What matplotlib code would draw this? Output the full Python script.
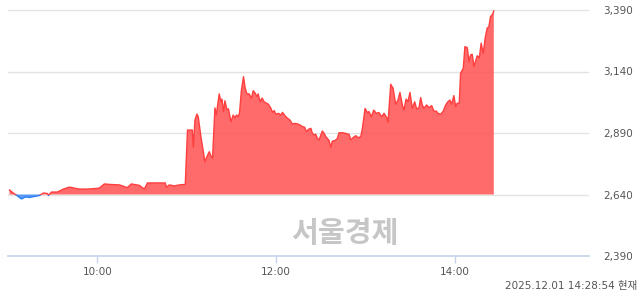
import matplotlib
matplotlib.use("Agg")
import matplotlib.pyplot as plt
from matplotlib.patches import Rectangle
import numpy as np

plt.rcParams['font.family'] = ['DejaVu Sans', 'Noto Sans CJK KR']

# minutes since 09:00 and price
minutes = [1.0, 4.4, 6.4, 9.1, 11.7, 14.4, 17.8, 21.1, 23.8, 26.5, 27.2, 29.2, 33.2, 37.2, 41.2,
           44.6, 47.9, 53.3, 58.0, 61.3, 64.7, 68.0, 74.8, 80.1, 82.8, 88.2, 91.5, 93.6, 101.7,
           105.6, 106.3, 108.3, 111.6, 115.0, 119.0, 120.5, 123.7, 124.4, 125.5, 126.8, 127.7,
           129.5, 132.2, 133.1, 135.1, 136.2, 137.3, 138.9, 139.8, 141.8, 142.9, 143.6, 144.7,
           145.6, 147.0, 148.0, 149.6, 151.2, 152.3, 153.4, 154.5, 155.4, 156.7, 158.1, 159.2,
           160.4, 161.9, 163.4, 164.6, 165.7, 167.1, 167.9, 169.3, 170.6, 172.0, 173.5, 174.8,
           176.5, 177.5, 178.7, 179.8, 181.5, 183.2, 184.2, 186.0, 187.6, 189.2, 190.9, 192.8,
           194.3, 195.9, 197.6, 199.2, 200.3, 201.7, 203.3, 204.3, 205.5, 206.6, 207.7, 208.8,
           210.0, 211.0, 212.2, 213.3, 214.4, 215.5, 216.7, 217.7, 219.5, 221.1, 222.2, 224.4,
           226.3, 227.8, 228.9, 230.1, 231.6, 233.4, 235.0, 236.8, 237.9, 239.7, 241.2, 242.3,
           243.9, 245.5, 247.2, 249.0, 250.9, 252.4, 254.2, 255.1, 256.9, 258.5, 260.2, 261.8,
           263.1, 264.7, 265.8, 267.2, 268.5, 269.8, 271.4, 273.0, 274.3, 275.9, 277.0, 278.1,
           279.2, 281.0, 282.6, 284.4, 285.9, 287.5, 288.6, 290.4, 292.2, 293.8, 295.3, 296.6,
           297.8, 299.3, 300.5, 301.5, 302.9, 303.8, 305.6, 306.7, 308.3, 309.4, 310.5, 311.6,
           312.8, 314.1, 315.0, 316.4, 317.6, 319.0, 320.3, 321.6, 322.8, 323.9, 325.3, 326.1]
prices = [2658, 2642, 2634, 2622, 2630, 2628, 2632, 2636, 2646, 2644, 2636, 2650, 2650, 2662, 2670,
          2666, 2662, 2662, 2664, 2666, 2683, 2681, 2679, 2668, 2683, 2677, 2662, 2687, 2687,
          2687, 2670, 2679, 2675, 2679, 2681, 2902, 2902, 2833, 2943, 2967, 2956,
          2875, 2773, 2788, 2814, 2797, 2788, 2992, 2963, 3049, 3017, 3028, 2977,
          3021, 2984, 2988, 2936, 2963, 2951, 2963, 2956, 2971, 3065, 3119, 3073,
          3049, 3049, 3031, 3062, 3054, 3038, 3049, 3017, 3032, 3016, 3011, 3007,
          2990, 2974, 2981, 2966, 2970, 2963, 2974, 2960, 2950, 2943, 2927, 2929,
          2927, 2923, 2916, 2913, 2895, 2905, 2909, 2889, 2882, 2885, 2868, 2862,
          2882, 2898, 2889, 2875, 2868, 2859, 2832, 2857, 2859, 2868, 2891, 2891,
          2889, 2886, 2885, 2862, 2871, 2879, 2871, 2875, 2909, 2990, 2973, 2977,
          2956, 2983, 2970, 2973, 2956, 2970, 2953, 2933, 3088, 3072, 3007, 3024,
          3055, 3004, 2983, 3028, 3017, 3055, 2990, 3017, 2988, 2993, 3034, 3004,
          2990, 3004, 2993, 3001, 2979, 2979, 2970, 2966, 2979, 3004, 3017, 3024,
          3007, 3042, 2997, 3011, 3011, 3133, 3153, 3241, 3237, 3180, 3207, 3210,
          3160, 3187, 3204, 3196, 3255, 3214, 3275, 3316, 3322, 3363, 3373, 3386]

base_price = 2640
y_ticks = [2390, 2640, 2890, 3140, 3390]
y_tick_labels = ["2,390", "2,640", "2,890", "3,140", "3,390"]
x_ticks = [60, 180, 300]
x_tick_labels = ["10:00", "12:00", "14:00"]
stamp_text = "2025.12.01 14:28:54 현재"
watermark = "서울경제"

W, H = 640, 294
fig = plt.figure(figsize=(W / 100, H / 100), dpi=100)
ax_left, ax_right, ax_bottom, ax_top = 8, 589, 256, 5
ax = fig.add_axes([ax_left / W, 1 - ax_bottom / H, (ax_right - ax_left) / W, (ax_bottom - ax_top) / H])

x = np.array(minutes)
y = np.array(prices)

ax.set_xlim(0, 390)
ppu = (256 - 10) / 1000.0
ax.set_ylim(2390, 3390 + (10 - 5) / ppu)

for t in y_ticks[1:]:
    ax.axhline(t, color='#e3e3e3', lw=1, zorder=1)
ax.axhline(2390, color='#c4d2ea', lw=1.2, zorder=1, clip_on=False)

red_line = '#ff3f3f'
red_fill = '#ff5555'
blue_line = '#2f7ff0'
blue_fill = '#4a90f5'

ax.fill_between(x, y, base_price, where=y >= base_price, interpolate=True,
                color=red_fill, alpha=0.88, lw=0, zorder=2)
ax.fill_between(x, y, base_price, where=y <= base_price, interpolate=True,
                color=blue_fill, alpha=0.9, lw=0, zorder=2)

l1, = ax.plot(x, y, color=red_line, lw=1.0, zorder=3)
l1.set_clip_path(Rectangle((0, base_price), 400, 2000, transform=ax.transData))
l2, = ax.plot(x, y, color=blue_line, lw=1.0, zorder=3)
l2.set_clip_path(Rectangle((0, 0), 400, base_price, transform=ax.transData))

for s in ax.spines.values():
    s.set_visible(False)

ax.yaxis.tick_right()
ax.set_yticks(y_ticks)
ax.set_yticklabels(y_tick_labels)
ax.tick_params(axis='y', length=0, pad=10, labelsize=7.5, labelcolor='#555555')
ax.set_xticks(x_ticks)
ax.set_xticklabels(x_tick_labels)
ax.tick_params(axis='x', length=5, width=1, color='#c4d2ea', pad=3, labelsize=7.5,
               labelcolor='#555555')
for lbl in ax.get_yticklabels():
    lbl.set_horizontalalignment('left')

fig.text(345 / W, 1 - 233 / H, watermark, ha='center', va='center', fontsize=21,
         fontweight='bold', color='#c6c6c6', family=['Noto Sans CJK KR'])
fig.text(637 / W, 1 - 286 / H, stamp_text, ha='right', va='center', fontsize=7.5,
         color='#555555')

fig.savefig('out.png', dpi=100)
